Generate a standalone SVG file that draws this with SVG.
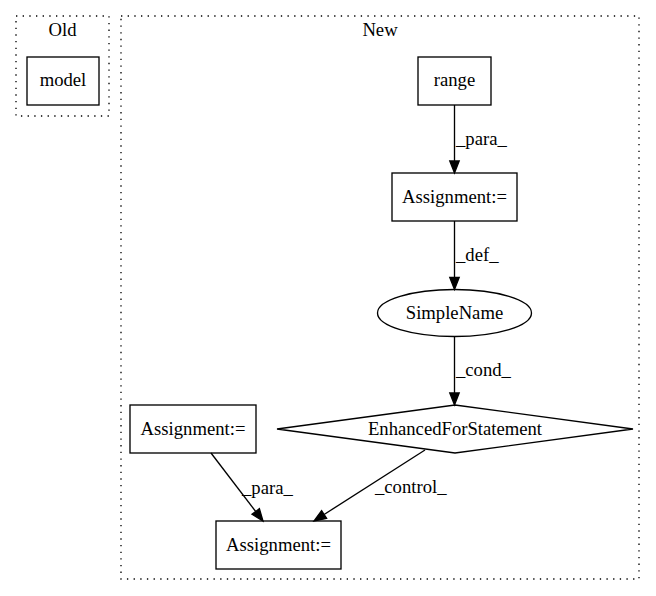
<svg xmlns="http://www.w3.org/2000/svg" width="656" height="596" viewBox="0 0 656 596">
<style>
text{font-family:"Liberation Serif","Times New Roman",serif;font-size:18.67px;fill:#000}
.c{text-anchor:middle}
.n{fill:#fff;stroke:#000;stroke-width:1.33}
.cl{fill:none;stroke:#000;stroke-width:1.33;stroke-dasharray:1.33,5.33}
.e{fill:none;stroke:#000;stroke-width:1.33}
.a{fill:#000;stroke:#000;stroke-width:1.33}
</style>
<rect width="656" height="596" fill="#fff"/>
<g id="cluster_old">
<rect class="cl" x="16" y="16" width="93" height="100"/>
<text class="c" x="62.5" y="36">Old</text>
</g>
<g id="cluster_new">
<rect class="cl" x="121" y="16" width="518" height="563"/>
<text class="c" x="380" y="36">New</text>
</g>
<g id="model">
<rect class="n" x="27" y="57" width="72" height="48"/>
<text class="c" x="63" y="86">model</text>
</g>
<g id="range">
<rect class="n" x="418" y="57" width="73" height="48"/>
<text class="c" x="454.5" y="86">range</text>
</g>
<g id="assign1">
<rect class="n" x="392" y="173" width="125" height="48"/>
<text class="c" x="454.5" y="202.5">Assignment:=</text>
</g>
<g id="simplename">
<ellipse class="n" cx="454.5" cy="313" rx="77" ry="23.5"/>
<text class="c" x="454.5" y="318.5">SimpleName</text>
</g>
<g id="efs">
<polygon class="n" points="455,405 633,429 455,453 277,429"/>
<text class="c" x="455" y="434.5">EnhancedForStatement</text>
</g>
<g id="assign2">
<rect class="n" x="130" y="405" width="126" height="48"/>
<text class="c" x="193" y="434.5">Assignment:=</text>
</g>
<g id="assign3">
<rect class="n" x="216" y="521" width="125" height="48"/>
<text class="c" x="278.5" y="550.5">Assignment:=</text>
</g>
<g id="edges">
<line class="e" x1="454.5" y1="105" x2="454.5" y2="161"/>
<polygon class="a" points="449.8,161 454.5,173 459.2,161"/>
<text x="456" y="145">_para_</text>
<line class="e" x1="454.5" y1="221" x2="454.5" y2="277.5"/>
<polygon class="a" points="449.8,277.5 454.5,289.5 459.2,277.5"/>
<text x="456" y="261">_def_</text>
<line class="e" x1="454.5" y1="336.5" x2="454.5" y2="393"/>
<polygon class="a" points="449.8,393 454.5,405 459.2,393"/>
<text x="456" y="376">_cond_</text>
<line class="e" x1="211" y1="453" x2="255.7" y2="511.5"/>
<polygon class="a" points="252,514.3 263,521 259.4,508.7"/>
<text x="242" y="494">_para_</text>
<line class="e" x1="425" y1="450" x2="324.1" y2="514.5"/>
<polygon class="a" points="326.6,518.4 314,521 321.6,510.6"/>
<text x="375" y="493">_control_</text>
</g>
</svg>
